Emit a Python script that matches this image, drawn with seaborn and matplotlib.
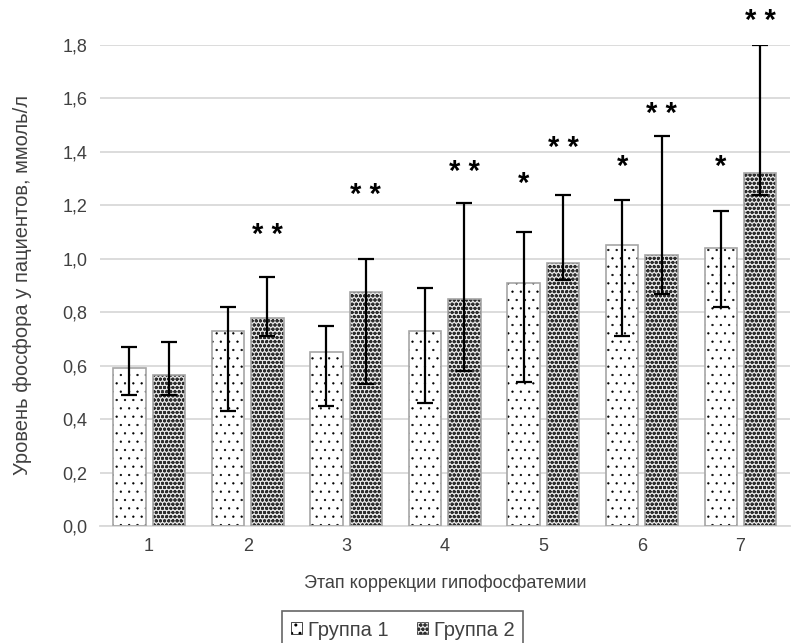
import numpy as np
import pandas as pd
import seaborn as sns
import matplotlib.pyplot as plt
from matplotlib.patches import Patch, Rectangle

# stages and values
stages = ["1", "2", "3", "4", "5", "6", "7"]
group1 = [0.59, 0.73, 0.65, 0.73, 0.91, 1.05, 1.04]
group2 = [0.565, 0.78, 0.875, 0.85, 0.985, 1.015, 1.32]
g1_low = [0.49, 0.43, 0.45, 0.46, 0.54, 0.71, 0.82]
g1_high = [0.67, 0.82, 0.75, 0.89, 1.10, 1.22, 1.18]
g2_low = [0.49, 0.71, 0.53, 0.58, 0.92, 0.87, 1.24]
g2_high = [0.69, 0.93, 1.00, 1.21, 1.24, 1.46, 1.80]
# significance marks and the height where they are printed
g1_marks = ["", "", "", "", "*", "*", "*"]
g1_mark_y = [0, 0, 0, 0, 1.28, 1.345, 1.345]
g2_marks = ["", "* *", "* *", "* *", "* *", "* *", "* *"]
g2_mark_y = [0, 1.09, 1.24, 1.325, 1.415, 1.54, 1.89]
groups = ["Группа 1", "Группа 2"]

df = pd.DataFrame({
    "Этап": stages * 2,
    "Группа": [groups[0]] * 7 + [groups[1]] * 7,
    "Уровень": group1 + group2,
})

sns.set_theme(style="white")
plt.rcParams["font.family"] = ["Liberation Sans", "DejaVu Sans"]
plt.rcParams["hatch.linewidth"] = 1.0

fig = plt.figure(figsize=(8.05, 6.43), dpi=100)
ax = fig.add_axes([0.124, 0.182, 0.857, 0.748])

sns.barplot(data=df, x="Этап", y="Уровень", hue="Группа", ax=ax,
            palette=["white", "white"], width=0.8, gap=0.18,
            errorbar=None, legend=False, edgecolor="black", linewidth=0)

hatches = ["..", "oooo"]
facecols = ["white", "#e6e6e6"]
hatchcols = ["black", "#2e2e2e"]
hatch_lw = [0.4, 1.0]
bars1 = ax.patches[:7]
bars2 = ax.patches[7:14]
for i, bars in enumerate([bars1, bars2]):
    for p in bars:
        p.set_hatch(hatches[i])
        p.set_facecolor(facecols[i])
        p.set_edgecolor(hatchcols[i])
        if hasattr(p, "set_hatch_linewidth"):
            p.set_hatch_linewidth(hatch_lw[i])
        ax.add_patch(Rectangle((p.get_x(), p.get_y()), p.get_width(), p.get_height(),
                               fill=False, edgecolor="#a6a6a6", linewidth=1.2, zorder=3))

def draw_err(bars, vals, low, high, marks, mark_y):
    xs = [p.get_x() + p.get_width() / 2 for p in bars]
    v = np.array(vals)
    yerr = [v - np.array(low), np.array(high) - v]
    ax.errorbar(xs, v, yerr=yerr, fmt="none", ecolor="black",
                elinewidth=1.6, capsize=5.5, capthick=1.6, zorder=5)
    for x, m, y in zip(xs, marks, mark_y):
        if m:
            ax.text(x, y, m, ha="center", va="center", fontsize=21,
                    fontweight="bold", clip_on=False, color="black")

draw_err(bars1, group1, g1_low, g1_high, g1_marks, g1_mark_y)
draw_err(bars2, group2, g2_low, g2_high, g2_marks, g2_mark_y)

ax.set_xlim(-0.5, len(stages) - 0.5)
ax.set_ylim(0, 1.8)
ticks = np.arange(0, 1.81, 0.2)
ax.set_yticks(ticks)
ax.set_yticklabels([f"{t:.1f}".replace(".", ",") for t in ticks])
ax.yaxis.grid(True, color="#d9d9d9", linewidth=1.3)
ax.set_axisbelow(True)
for s in ["top", "right", "left"]:
    ax.spines[s].set_visible(False)
ax.spines["bottom"].set_color("#d9d9d9")
ax.spines["bottom"].set_linewidth(1.3)
ax.tick_params(axis="both", labelsize=13, colors="#404040", length=0, pad=9)

ax.set_xlabel("Этап коррекции гипофосфатемии", fontsize=13, color="#404040", labelpad=14)
ax.set_ylabel("Уровень фосфора у пациентов, ммоль/л", fontsize=14.5, color="#404040",
              labelpad=22)

handles = [Patch(facecolor=facecols[i], edgecolor=hatchcols[i], hatch=hatches[i],
                 linewidth=0.5) for i in range(2)]
leg = fig.legend(handles, groups, loc="upper center", bbox_to_anchor=(0.5, 0.049),
                 ncol=2, frameon=True, fancybox=False, fontsize=14.5,
                 handlelength=0.55, handleheight=0.55, handletextpad=0.3,
                 columnspacing=1.4, edgecolor="#404040", borderpad=0.45,
                 borderaxespad=0)
leg.get_frame().set_linewidth(1.2)
for t in leg.get_texts():
    t.set_color("#404040")

fig.savefig("out.png", dpi=100)
